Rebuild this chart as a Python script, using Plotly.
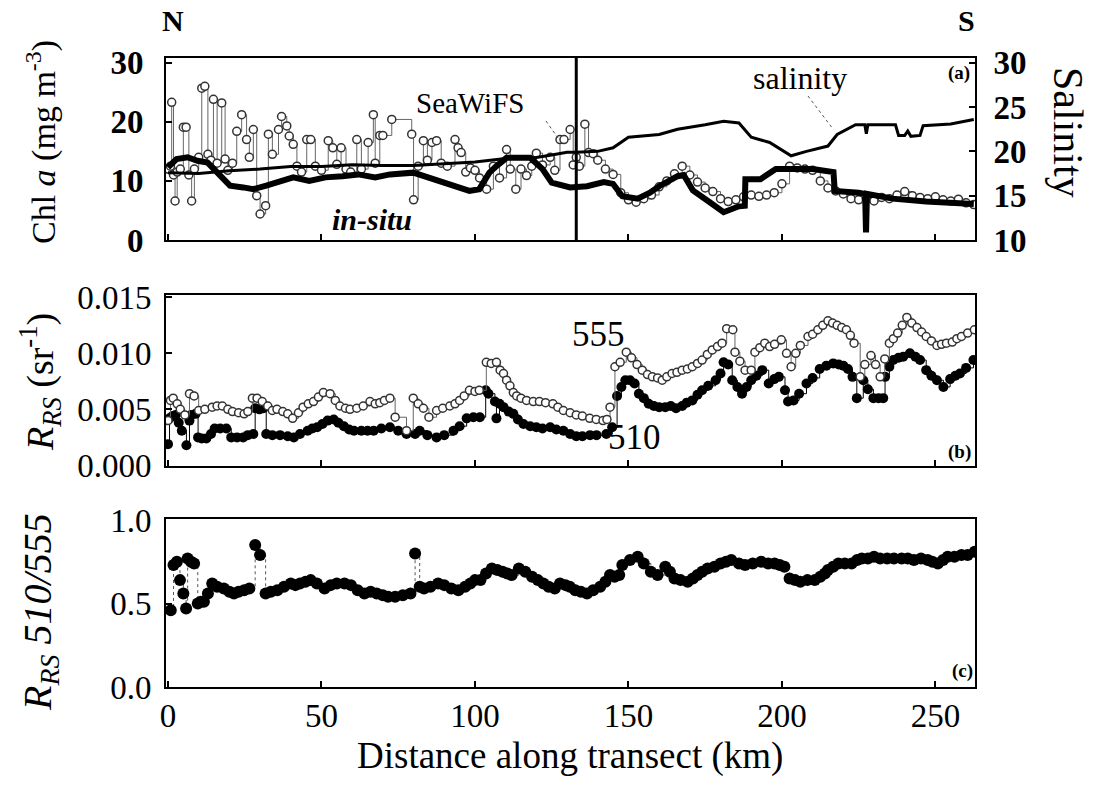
import plotly.graph_objects as go

# ---------------- data ----------------
# Panel (a): SeaWiFS Chl a (mg m-3)
sw_x = [0, 0.8, 1.2, 1.8, 2.3, 3.0, 4.0, 5.0, 5.9, 6.8,
        7.7, 8.6, 10.0, 11.0, 12.0, 13.0, 14.0, 14.8, 16.0, 17.5,
        18.6, 19.5, 21.0, 22.4, 24.0, 25.6, 26.5, 27.8, 28.9, 30.0,
        31.8, 32.7, 34.0, 36.0, 37.0, 38.7, 39.5, 40.8, 42.0, 43.5,
        45.2, 46.5, 48.0, 50.0, 52.2, 53.7, 55.0, 56.4, 58.0, 59.5,
        61.5, 63.0, 65.2, 66.9, 67.5, 69.0, 70.0, 72.9, 79.4, 80.0,
        81.5, 83.2, 84.5, 86.0, 87.5, 89.0, 91.0, 93.5, 94.5, 95.5,
        97.0, 98.5, 100.0, 101.5, 103.8, 106.0, 108.0, 110.3, 111.5, 113.3,
        115.0, 116.8, 118.5, 120.0, 122.0, 124.5, 126.0, 127.7, 129.0, 131.0,
        132.0, 133.0, 134.0, 135.8, 137.0, 138.5,
        140.0, 142.5, 145.0, 147.5, 150.0, 152.5, 155.0, 157.5, 160.0, 162.5,
        165.0, 167.5, 170.0, 172.5, 175.0, 177.5, 180.0, 182.5, 185.0, 187.5,
        190.0, 192.5, 195.0, 197.5, 200.0, 202.5, 205.0, 207.5, 210.0, 212.5,
        215.0, 217.5, 220.0, 222.5, 225.0, 227.5, 230.0, 232.5, 235.0, 237.5,
        240.0, 242.5, 245.0, 247.5, 250.0, 252.5, 255.0, 257.5, 260.0, 262.5]
sw_chl = [12.0, 12.5, 23.3, 11.0, 6.6, 11.5, 12.0, 19.1, 19.1, 11.0,
          6.6, 12.0, 14.0, 25.7, 26.0, 14.5, 13.5, 23.8, 13.0, 23.2,
          13.7, 11.8, 13.0, 18.4, 21.2, 17.0, 14.0, 18.7, 7.5, 4.4,
          5.8, 17.9, 14.5, 18.7, 20.9, 19.3, 17.6, 16.2, 12.5, 11.5,
          17.0, 17.0, 12.5, 11.8, 16.8, 15.6, 12.8, 15.6, 12.0, 11.5,
          17.0, 12.0, 16.5, 21.2, 13.0, 17.7, 17.7, 20.4, 17.9, 6.8,
          12.5, 16.8, 13.5, 16.5, 16.8, 13.0, 12.5, 17.0, 15.6, 14.8,
          11.5, 12.2, 11.8, 10.5, 8.6, 12.5, 10.5, 15.3, 12.0, 8.6,
          12.0, 10.9, 12.5, 14.7, 12.7, 14.0, 11.8, 17.0, 17.0, 18.7,
          12.7, 14.0, 12.5, 19.6, 14.8, 14.6,
          13.5, 12.0, 11.1, 8.0, 6.8, 6.4, 7.0, 7.6, 9.0, 10.0,
          11.2, 12.5, 11.0, 9.8, 8.8, 8.2, 7.0, 6.5, 6.8, 7.3,
          7.6, 7.4, 7.6, 8.0, 9.5, 12.5, 12.2, 12.0, 11.8, 10.0,
          8.8, 8.3, 7.8, 7.0, 6.8, 6.9, 6.6, 7.2, 7.0, 7.6,
          8.2, 7.5, 7.2, 7.0, 7.3, 6.8, 6.6, 6.9, 6.3, 6.0]

# Panel (a): in-situ Chl a (mg m-3)
is_x = [0, 2.8, 6.4, 9.6, 12.9, 15, 17, 20.2, 24.5, 27.8,
        32, 36.4, 40.8, 46, 51.3, 56.8, 62, 67.5, 72.3, 79.9,
        86.3, 91.7, 98.2, 101.4, 104.7, 107, 110.3, 118, 122, 125,
        131, 136.5, 142, 145, 148, 153, 157, 160, 163, 166,
        168, 171, 176.5, 181, 186, 187.9, 188.1, 193, 198, 204,
        210, 216.8, 217.2, 225, 227.1, 227.4, 227.7, 236, 247, 262.5]
is_chl = [12.3, 13.7, 14.0, 13.4, 13.1, 12.0, 10.6, 9.2, 8.9, 8.6,
          9.2, 10.0, 10.6, 10.0, 10.6, 10.8, 11.1, 10.6, 11.1, 11.4,
          10.3, 9.4, 8.3, 8.6, 11.4, 12.5, 13.9, 13.9, 12.0, 9.7,
          8.9, 9.1, 9.8, 9.5, 7.4, 7.0, 8.0, 9.1, 10.0, 10.8,
          11.0, 8.4, 6.4, 4.7, 5.7, 5.8, 10.3, 10.3, 12.0, 11.9,
          12.0, 11.5, 8.3, 8.0, 7.8, 1.3, 7.8, 7.0, 6.5, 6.1]

# Panel (a): salinity (right axis)
sal_x = [0, 10, 20, 30, 40, 50, 60, 70, 80, 90,
         100, 110, 120, 125, 130, 133, 140, 145, 150, 160,
         166, 175, 181, 186, 190, 196, 203, 208, 215, 218,
         224, 227, 227.5, 228, 237, 238, 240, 241, 242, 245,
         246, 255, 262.5]
sal = [17.6, 17.5, 17.8, 18.0, 18.3, 18.3, 18.5, 18.4, 18.4, 18.6,
       18.8, 19.2, 19.3, 19.6, 19.9, 19.9, 20.0, 20.4, 21.6, 21.9,
       22.5, 23.0, 23.4, 23.2, 21.6, 21.0, 19.5, 20.0, 20.6, 21.9,
       23.0, 23.0, 22.0, 23.0, 23.0, 21.8, 21.8, 22.3, 21.7, 21.8,
       22.9, 23.1, 23.6]

# Panel (b): Rrs(510)
r510_x = [0, 0.5, 1.5, 2.5, 3.5, 4.5, 6, 7, 7.5, 9,
          9.8, 11, 12.5, 14, 15.2, 17, 19, 20.6, 22.5, 24.5,
          26, 27.8, 28.4, 29.8, 31.1, 32, 34, 36.5, 39, 41,
          43, 45.5, 47, 48.6, 50.3, 52, 54, 55.5, 57.3, 59,
          60.6, 63, 65, 67, 69.5, 72.3, 75, 77.7, 80.5, 82,
          84.5, 87.5, 90, 93, 95, 97.3, 99.5, 101.6, 103.5, 104.4,
          106.5, 107, 108, 109.3, 111, 112.5, 114, 115.8, 118, 120,
          122, 124.5, 126.5, 128.8, 131, 133, 135, 137.5, 139.6, 142.8,
          144.7, 146.3, 147.7, 149, 150.5, 152, 153.4, 155, 156.6, 158.3,
          160, 162, 163.8, 165.5, 167.5, 169, 170.8, 172.5, 174, 176,
          178.4, 180, 181, 182.5, 183.8, 185.5, 187, 188.5, 190, 191.7,
          193.6, 195.7, 197.5, 199, 201, 202, 203.8, 205.6, 208, 210,
          212.3, 214.5, 216.7, 218.5, 220, 221.5, 223, 224.4, 226.5, 228,
          229.8, 231.5, 233, 233.6, 235, 236.3, 238, 239.5, 241.7, 243.5,
          245, 247, 248.7, 250.5, 252.6, 254.8, 256.5, 258, 260, 262.4]
r510 = [0.0019, 0.0042, 0.0044, 0.0045, 0.0038, 0.0031, 0.0018, 0.0040, 0.0045, 0.0046,
        0.0025, 0.0024, 0.0024, 0.0028, 0.0033, 0.0033, 0.0033, 0.0025, 0.0025, 0.0025,
        0.0027, 0.0028, 0.0051, 0.0050, 0.0051, 0.0028, 0.0027, 0.0027, 0.0026, 0.0025,
        0.0028, 0.0031, 0.0033, 0.0034, 0.0037, 0.0040, 0.0041, 0.0038, 0.0035, 0.0032,
        0.0031, 0.0031, 0.0031, 0.0031, 0.0033, 0.0034, 0.0031, 0.0028, 0.0028, 0.0031,
        0.0027, 0.0025, 0.0027, 0.0031, 0.0035, 0.0042, 0.0043, 0.0043, 0.0067, 0.0064,
        0.0057, 0.0042, 0.0055, 0.0052, 0.0048, 0.0046, 0.0041, 0.0037, 0.0035, 0.0034,
        0.0033, 0.0034, 0.0032, 0.0031, 0.0028, 0.0026, 0.0026, 0.0027, 0.0027, 0.0028,
        0.0034, 0.0062, 0.0070, 0.0076, 0.0076, 0.0073, 0.0064, 0.0060, 0.0055, 0.0053,
        0.0052, 0.0052, 0.0053, 0.0051, 0.0053, 0.0056, 0.0058, 0.0063, 0.0067, 0.0071,
        0.0076, 0.0082, 0.0092, 0.0090, 0.0076, 0.0070, 0.0064, 0.0070, 0.0076, 0.0080,
        0.0085, 0.0073, 0.0077, 0.0079, 0.0067, 0.0057, 0.0058, 0.0064, 0.0073, 0.0078,
        0.0086, 0.0089, 0.0091, 0.0090, 0.0089, 0.0086, 0.0079, 0.0060, 0.0076, 0.0068,
        0.0060, 0.0060, 0.0060, 0.0079, 0.0088, 0.0094, 0.0096, 0.0097, 0.0100, 0.0097,
        0.0094, 0.0085, 0.0080, 0.0076, 0.0070, 0.0077, 0.0080, 0.0082, 0.0087, 0.0094]

# Panel (b): Rrs(555)
r555_x = [0, 0.8, 1.7, 3, 4, 5.5, 7, 8.5, 10, 12,
          14.4, 16, 17.7, 19.5, 21, 23, 24.8, 26, 27.5, 29,
          30.7, 32.5, 34, 35.5, 37.4, 39, 40.6, 42.5, 44, 45.7,
          47.4, 49, 50.6, 52.8, 54.5, 56, 57.8, 59.3, 61.5, 63.6,
          65.8, 67.5, 69, 70.5, 72.3, 74, 77.7, 79.9, 81.5, 83.2,
          85, 87.5, 89.5, 91.8, 93.5, 95, 96.5, 98.2, 100, 101.4,
          103.7, 105.3, 107, 108.2, 109.3, 110.3, 111.4, 112.5, 113.6, 115,
          116.8, 119, 121, 123, 125.4, 127, 128.8, 131, 133, 135,
          137.4, 139.5, 141.7, 143, 144, 145.6, 147.3, 149.3, 151, 152.8,
          154.5, 156.2, 157.8, 159.5, 161, 162.5, 164.2, 165.8, 167.5, 169.2,
          170.8, 172.5, 174, 175.7, 177.3, 179, 180.5, 182, 184, 184.7,
          186.3, 188, 190, 191.2, 192.8, 194.4, 196, 197.6, 199.8, 201.5,
          203, 204.5, 206, 208.5, 210, 211.7, 213.3, 215, 216.5, 218,
          219.5, 221, 222.3, 223.5, 225.5, 227, 229, 230.5, 232, 233.5,
          235, 236.3, 237.7, 239.2, 240.7, 242.3, 244, 245.5, 247, 248.7,
          250.5, 252, 253.6, 255.5, 257, 258.5, 260.5, 262.7]
r555 = [0.0040, 0.0058, 0.0060, 0.0055, 0.0050, 0.0045, 0.0064, 0.0062, 0.0049, 0.0050,
        0.0052, 0.0053, 0.0053, 0.0050, 0.0048, 0.0047, 0.0046, 0.0048, 0.0060, 0.0060,
        0.0057, 0.0053, 0.0049, 0.0050, 0.0048, 0.0046, 0.0042, 0.0047, 0.0052, 0.0055,
        0.0057, 0.0061, 0.0065, 0.0064, 0.0058, 0.0053, 0.0051, 0.0050, 0.0051, 0.0053,
        0.0057, 0.0055, 0.0056, 0.0058, 0.0060, 0.0043, 0.0031, 0.0060, 0.0055, 0.0051,
        0.0043, 0.0049, 0.0051, 0.0053, 0.0055, 0.0058, 0.0062, 0.0067, 0.0066, 0.0067,
        0.0092, 0.0091, 0.0092, 0.0085, 0.0082, 0.0076, 0.0071, 0.0065, 0.0062, 0.0060,
        0.0058, 0.0057, 0.0057, 0.0056, 0.0055, 0.0052, 0.0049, 0.0047, 0.0045, 0.0044,
        0.0042, 0.0041, 0.0040, 0.0041, 0.0052, 0.0088, 0.0092, 0.0101, 0.0096, 0.0090,
        0.0085, 0.0081, 0.0079, 0.0078, 0.0076, 0.0079, 0.0082, 0.0083, 0.0085, 0.0086,
        0.0088, 0.0091, 0.0094, 0.0099, 0.0103, 0.0106, 0.0109, 0.0122, 0.0121, 0.0101,
        0.0093, 0.0085, 0.0085, 0.0101, 0.0105, 0.0109, 0.0106, 0.0108, 0.0112, 0.0100,
        0.0088, 0.0100, 0.0107, 0.0115, 0.0117, 0.0121, 0.0125, 0.0129, 0.0127, 0.0125,
        0.0123, 0.0121, 0.0116, 0.0109, 0.0079, 0.0090, 0.0098, 0.0090, 0.0079, 0.0095,
        0.0109, 0.0113, 0.0118, 0.0125, 0.0132, 0.0127, 0.0123, 0.0119, 0.0115, 0.0111,
        0.0107, 0.0108, 0.0109, 0.0110, 0.0113, 0.0115, 0.0118, 0.0121]

# Panel (c): Rrs 510/555 ratio
ratio_x = [0.9, 1.8, 2.9, 3.9, 5, 5.9, 6.4, 7.5, 8.5, 9.7,
           10.7, 11.7, 13, 14.4, 16, 18.2, 20, 21.5, 23, 24.8,
           26.5, 28.4, 30, 31.8, 33.5, 35.6, 37.8, 40, 41.5, 43,
           44.8, 46.5, 48.5, 51, 53, 55, 57.5, 59.6, 61.8, 64,
           66, 68, 70, 71.7, 74, 76.5, 79, 80.5, 82, 83.4,
           85.5, 88, 90, 92.3, 94.6, 96.8, 98.5, 100, 101.8, 103.6,
           105.5, 107.3, 109, 110.5, 112, 114.3, 116.4, 118.6, 120.5, 122.3,
           124, 126, 127.7, 129.5, 130.9, 132.7, 134.5, 136.5, 138.5, 140.8,
           142.5, 144, 145.5, 147, 148, 150.5, 153, 155, 157.3, 159.5,
           162, 163.5, 165, 167, 169.3, 171, 172.5, 174, 175.8, 178,
           180, 181.8, 183.5, 186, 188, 190.5, 193.2, 195.5, 197.6, 199.3,
           200.8, 202.5, 204.3, 206, 208.3, 210.7, 212.5, 214, 215, 216.7,
           218.4, 220.5, 222.7, 224.5, 226, 228, 230, 232, 234.3, 236.5,
           239, 241, 243, 245.3, 247.5, 249, 250.8, 252.5, 254, 256.2,
           258.5, 260.5, 262.8]
ratio = [0.46, 0.73, 0.75, 0.64, 0.56, 0.47, 0.77, 0.75, 0.74, 0.50,
         0.51, 0.51, 0.56, 0.62, 0.60, 0.59, 0.57, 0.56, 0.57, 0.58,
         0.59, 0.85, 0.79, 0.56, 0.57, 0.58, 0.60, 0.62, 0.61, 0.62,
         0.63, 0.64, 0.62, 0.59, 0.61, 0.62, 0.62, 0.61, 0.58, 0.56,
         0.57, 0.56, 0.55, 0.54, 0.54, 0.55, 0.56, 0.80, 0.60, 0.59,
         0.60, 0.62, 0.61, 0.59, 0.58, 0.60, 0.62, 0.64, 0.64, 0.68,
         0.71, 0.70, 0.69, 0.68, 0.67, 0.71, 0.69, 0.66, 0.64, 0.62,
         0.60, 0.59, 0.62, 0.61, 0.60, 0.58, 0.57, 0.56, 0.58, 0.60,
         0.63, 0.67, 0.66, 0.67, 0.73, 0.76, 0.78, 0.74, 0.69, 0.67,
         0.72, 0.69, 0.65, 0.64, 0.63, 0.65, 0.67, 0.69, 0.71, 0.72,
         0.74, 0.75, 0.76, 0.74, 0.73, 0.74, 0.75, 0.74, 0.74, 0.73,
         0.72, 0.65, 0.64, 0.63, 0.64, 0.64, 0.66, 0.68, 0.70, 0.72,
         0.74, 0.74, 0.74, 0.76, 0.77, 0.77, 0.78, 0.77, 0.77, 0.77,
         0.77, 0.77, 0.76, 0.77, 0.76, 0.75, 0.74, 0.76, 0.78, 0.78,
         0.79, 0.79, 0.81]

x_ticks = [0, 50, 100, 150, 200, 250]
chl_ticks = [0, 10, 20, 30]
sal_ticks = [10, 15, 20, 25, 30]
rrs_ticks = [0.0, 0.005, 0.010, 0.015]
rrs_labels = ["0.000", "0.005", "0.010", "0.015"]
ratio_ticks = [0.0, 0.5, 1.0]
ratio_labels = ["0.0", "0.5", "1.0"]
front_km = 133  # position of the front marker (vertical line) in panel (a)

# ---------------- layout geometry (pixels) ----------------
W, H = 1099, 790
L, R, T, B = 166, 975, 58, 687
PW, PH = R - L, B - T


def fx(p):
    return (p - L) / PW


def fy(p):
    return (B - p) / PH


FONT = "Liberation Serif"

fig = go.Figure()

open_marker = dict(symbol="circle", size=8, color="white",
                   line=dict(color="#333333", width=1.5))

# ---- panel (a)
fig.add_trace(go.Scatter(x=sw_x, y=sw_chl, mode="lines+markers", xaxis="x", yaxis="y",
                         line=dict(color="#666666", width=1, shape="hv"),
                         marker=open_marker, showlegend=False))
fig.add_trace(go.Scatter(x=is_x, y=is_chl, mode="lines", xaxis="x", yaxis="y",
                         line=dict(color="black", width=6), showlegend=False))
fig.add_trace(go.Scatter(x=sal_x, y=sal, mode="lines", xaxis="x", yaxis="y4",
                         line=dict(color="black", width=3), showlegend=False))

# ---- panel (b)
fig.add_trace(go.Scatter(x=r510_x, y=r510, mode="lines+markers", xaxis="x2", yaxis="y2",
                         line=dict(color="black", width=1, shape="hv"),
                         marker=dict(symbol="circle", size=10, color="black"),
                         showlegend=False))
fig.add_trace(go.Scatter(x=r555_x, y=r555, mode="lines+markers", xaxis="x2", yaxis="y2",
                         line=dict(color="#666666", width=1, shape="hv"),
                         marker=open_marker, showlegend=False))

# ---- panel (c)
fig.add_trace(go.Scatter(x=ratio_x, y=ratio, mode="lines+markers", xaxis="x3", yaxis="y3",
                         line=dict(color="#555555", width=1, dash="dot", shape="hv"),
                         marker=dict(symbol="circle", size=12, color="black"),
                         showlegend=False))

xr = [-0.65, 262.9]
ax_common = dict(showline=True, linecolor="black", linewidth=2, ticks="inside",
                 ticklen=6, tickwidth=1.5, tickcolor="black", showgrid=False,
                 zeroline=False)
tf_plain = dict(family=FONT, size=33, color="black")
tf_bold = dict(family=FONT, size=33, color="black", weight="bold")
tf_x = dict(family=FONT, size=33, color="black")

dom_a = [fy(240), 1.0]
dom_b = [fy(466), fy(295)]
dom_c = [0.0, fy(519)]

fig.update_layout(
    width=W, height=H,
    margin=dict(l=L, r=W - R, t=T, b=H - B, pad=0),
    paper_bgcolor="white", plot_bgcolor="white",
    font=dict(family=FONT, color="black"),
    xaxis=dict(domain=[0, 1], anchor="y", range=xr, tickvals=x_ticks,
               showticklabels=False, mirror=True, **ax_common),
    xaxis2=dict(domain=[0, 1], anchor="y2", range=xr, tickvals=x_ticks,
                showticklabels=False, mirror=True, **ax_common),
    xaxis3=dict(domain=[0, 1], anchor="y3", range=xr, tickvals=x_ticks,
                mirror=True, ticklabelstandoff=-2, tickfont=tf_x, **ax_common),
    yaxis=dict(domain=dom_a, anchor="x", range=[0, 30.8], tickvals=chl_ticks,
               mirror=False, ticklabelstandoff=14, tickfont=tf_bold, **ax_common),
    yaxis4=dict(overlaying="y", side="right", anchor="x", range=[10, 10 + 30.8 * 2 / 3],
                tickvals=sal_ticks, ticklabelstandoff=10, tickfont=tf_bold, **ax_common),
    yaxis2=dict(domain=dom_b, anchor="x2", range=[-0.00005, 0.0152], tickvals=rrs_ticks,
                ticktext=rrs_labels, mirror=True, ticklabelstandoff=6,
                tickfont=tf_plain, **ax_common),
    yaxis3=dict(domain=dom_c, anchor="x3", range=[0, 1.006], tickvals=ratio_ticks,
                ticktext=ratio_labels, mirror=True, ticklabelstandoff=6,
                tickfont=tf_plain, **ax_common),
)

# vertical front line in panel (a)
fig.add_shape(type="line", xref="x", yref="y domain", x0=front_km, x1=front_km,
              y0=0, y1=1, line=dict(color="black", width=3))

# leader lines
fig.add_shape(type="line", xref="paper", yref="paper", x0=fx(546), y0=fy(121),
              x1=fx(558), y1=fy(138), line=dict(color="#555555", width=1, dash="dot"))
fig.add_shape(type="line", xref="paper", yref="paper", x0=fx(808), y0=fy(96),
              x1=fx(833), y1=fy(129), line=dict(color="#555555", width=1, dash="dot"))


def ann(text, xp, yp, size, angle=0, xanchor="center", yanchor="middle"):
    fig.add_annotation(text=text, x=fx(xp), y=fy(yp), xref="paper", yref="paper",
                       showarrow=False, textangle=angle, xanchor=xanchor,
                       yanchor=yanchor, font=dict(family=FONT, size=size, color="black"))


ann("Chl <i>a</i> (mg m<sup>-3</sup>)", 42, 142, 34, angle=-90)
ann("<i>R</i><sub><i>RS</i></sub> (sr<sup>-1</sup>)", 40, 382, 38, angle=-90)
ann("<i>R</i><sub><i>RS</i></sub> <i>510/555</i>", 40, 612, 40, angle=-90)
ann("Salinity", 1068, 132, 42, angle=90)
ann("<b>N</b>", 173, 20, 30)
ann("<b>S</b>", 966, 20, 30)
ann("SeaWiFS", 470, 103, 29)
ann("salinity", 800, 78, 32)
ann("<b><i>in-situ</i></b>", 372, 219, 30)
ann("555", 598, 334, 35)
ann("510", 634, 437, 35)
ann("<b>(a)</b>", 959, 73, 19)
ann("<b>(b)</b>", 959, 452, 19)
ann("<b>(c)</b>", 962, 671, 19)
ann("Distance along transect (km)", 570, 756, 37)

fig.write_html("out.html")
